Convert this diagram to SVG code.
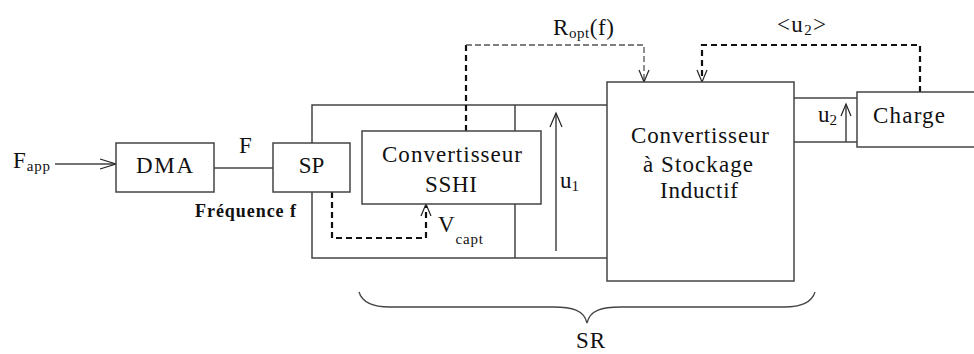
<svg xmlns="http://www.w3.org/2000/svg" width="974" height="354" viewBox="0 0 974 354">
<style>
text{font-family:"Liberation Serif","Times New Roman",serif;fill:#111;font-size:23px}
.sub{font-size:15px}
.box{fill:#fff;stroke:#444;stroke-width:1.5}
.ln{fill:none;stroke:#444;stroke-width:1.5}
.thin{fill:none;stroke:#555;stroke-width:1.3;stroke-dasharray:6 3}
.thick{fill:none;stroke:#111;stroke-width:2.2;stroke-dasharray:6 4}
.ah{fill:none;stroke:#222;stroke-width:1.2}
</style>
<rect width="974" height="354" fill="#fff"/>
<g id="connectors">
  <line class="ln" x1="55" y1="164" x2="116" y2="164"/>
  <path class="ah" d="M100,159 L116,164 L100,169"/>
  <line class="ln" x1="214" y1="168" x2="273" y2="168"/>
  <path class="ln" d="M312,143 V105 H607 M312,192 V258 H607 M515,105 V258"/>
  <line class="ln" x1="794" y1="98" x2="857" y2="98"/>
  <line class="ln" x1="794" y1="142" x2="857" y2="142"/>
  <line class="ln" x1="556" y1="251" x2="556" y2="114"/>
  <path class="ah" d="M550,127 L556,113 L562,127"/>
  <line class="ln" x1="846" y1="142" x2="846" y2="105"/>
  <path class="ah" d="M841,116 L846,104 L851,116"/>
  <path class="thick" d="M466,131 V45"/>
  <path class="thin" d="M466,45 H644 V82"/>
  <path class="ah" d="M639,70 L644,82 L649,70"/>
  <path class="thick" d="M332,192 V238 H426 V206"/>
  <path class="ah" d="M421,216 L426,204 L431,216"/>
  <path class="thick" d="M920,92 V45 H702 V80"/>
  <path class="ah" d="M697,70 L702,82 L707,70"/>
  <path fill="none" stroke="#444" stroke-width="1.3" d="M359,292 C362,302 372,307 390,307 L553,307 C572,307 584,310 587,323 C590,310 602,307 621,307 L784,307 C802,307 812,302 815,292"/>
</g>
<g id="fapp"><text x="13" y="168" textLength="37" lengthAdjust="spacing">F<tspan class="sub" dy="3">app</tspan></text></g>
<g id="dma"><rect class="box" x="116" y="143" width="98" height="49"/><text x="136" y="173" textLength="57" lengthAdjust="spacing">DMA</text></g>
<g id="labelF"><text x="239" y="153">F</text></g>
<g id="sp"><rect class="box" x="273" y="143" width="77" height="49"/><text x="311.5" y="173" font-size="25" text-anchor="middle">SP</text></g>
<g id="freq"><text x="195" y="217" style="font-size:18px;font-weight:bold" textLength="101" lengthAdjust="spacing">Fréquence f</text></g>
<g id="sshi"><rect class="box" x="362" y="131" width="179" height="73"/>
  <text x="382" y="162" textLength="140" lengthAdjust="spacing">Convertisseur</text>
  <text x="425" y="192" textLength="52" lengthAdjust="spacing">SSHI</text></g>
<g id="vcapt"><text x="438" y="232" textLength="45" lengthAdjust="spacing">V<tspan class="sub" dy="12">capt</tspan></text></g>
<g id="u1"><text x="560" y="188">u<tspan class="sub" dy="3">1</tspan></text></g>
<g id="ropt"><text x="553" y="35" textLength="61" lengthAdjust="spacing">R<tspan class="sub" dy="3">opt</tspan><tspan dy="-3">(f)</tspan></text></g>
<g id="u2avg"><text x="777" y="32" textLength="49" lengthAdjust="spacing">&lt;u<tspan class="sub" dy="3">2</tspan><tspan dy="-3">&gt;</tspan></text></g>
<g id="csi"><rect class="box" x="607" y="82" width="187" height="199"/>
  <text x="631" y="143" textLength="138" lengthAdjust="spacing">Convertisseur</text>
  <text x="643" y="172" textLength="110" lengthAdjust="spacing">à Stockage</text>
  <text x="660" y="198" textLength="78" lengthAdjust="spacing">Inductif</text></g>
<g id="u2"><text x="818" y="122">u<tspan class="sub" dy="3">2</tspan></text></g>
<g id="charge"><rect class="box" x="857" y="92" width="130" height="55"/><text x="873" y="123" textLength="72" lengthAdjust="spacing">Charge</text></g>
<g id="sr"><text x="576" y="348" textLength="29" lengthAdjust="spacing">SR</text></g>
</svg>
